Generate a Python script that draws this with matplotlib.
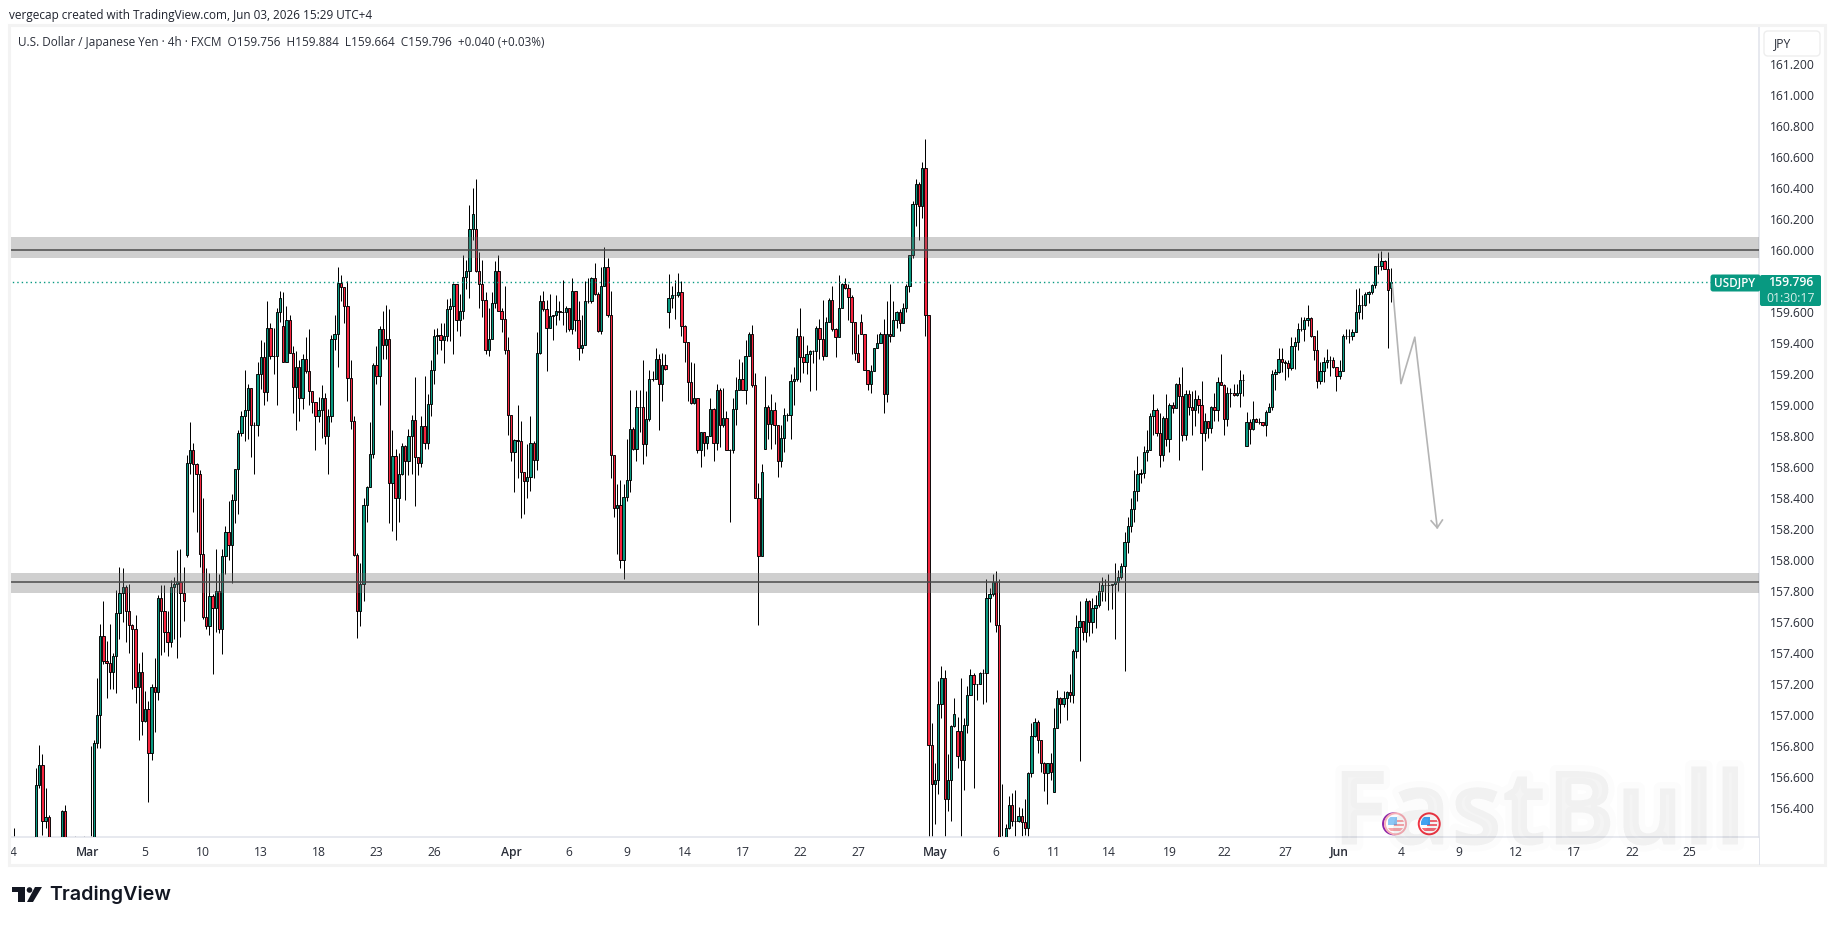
import matplotlib
matplotlib.use('Agg')
import matplotlib.pyplot as plt
import matplotlib.patheffects as pe
from matplotlib.patches import Rectangle, Circle, FancyBboxPatch, Polygon
from matplotlib.transforms import IdentityTransform
import numpy as np

W, H = 1835, 925

# 4h USD/JPY candles, ten bars a row
closes = [
    156.05,156.00,155.95,155.90,155.90,155.95,156.05,156.55,156.68,156.32,
    156.345,156.10,156.00,155.95,156.10,156.38,156.10,156.00,156.05,156.10,
    156.05,156.10,156.05,156.00,156.10,156.82,157.00,157.51,157.35,157.34,
    157.28,157.385,157.66,157.79,157.825,157.675,157.58,157.56,157.185,157.28,
    156.965,157.04,156.755,157.18,157.15,157.755,157.675,157.54,157.47,157.83,
    157.85,157.86,157.79,157.74,158.63,158.71,158.62,158.56,158.04,157.635,
    157.575,157.77,157.69,157.80,157.56,158.03,158.18,158.10,158.39,158.59,
    158.82,158.93,158.97,159.11,158.87,158.87,159.20,159.31,159.085,159.50,
    159.32,159.32,159.60,159.69,159.28,159.55,159.34,159.12,159.25,159.05,
    159.30,159.22,159.09,159.02,158.93,158.97,159.05,158.80,158.93,159.43,
    159.46,159.79,159.765,159.64,159.175,158.90,158.035,157.675,157.85,158.36,
    158.475,158.685,159.26,159.19,159.49,159.39,159.43,158.50,158.67,158.40,
    158.56,158.74,158.64,158.80,158.905,158.665,158.63,158.865,158.76,159.01,
    159.23,159.45,159.455,159.42,159.45,159.62,159.64,159.78,159.55,159.61,
    159.825,159.865,160.14,160.235,159.865,159.78,159.68,159.36,159.43,159.66,
    159.865,159.61,159.56,159.36,158.94,158.70,158.775,158.77,158.57,158.51,
    158.54,158.76,158.65,159.34,159.67,159.62,159.50,159.575,159.58,159.61,
    159.60,159.60,159.63,159.49,159.74,159.55,159.37,159.39,159.67,159.67,
    159.82,159.72,159.48,159.77,159.89,159.58,158.68,158.34,158.36,158.00,
    158.41,158.52,158.85,158.72,158.99,158.99,158.75,158.91,159.17,159.17,
    159.30,159.14,159.26,159.235,159.69,159.71,159.71,159.73,159.51,159.41,
    159.15,159.015,159.05,158.71,158.83,158.76,158.80,158.975,158.76,159.10,
    158.87,158.92,158.715,158.71,158.975,159.10,159.17,159.10,159.32,159.46,
    159.13,158.40,158.03,158.57,158.99,158.88,158.97,158.87,158.64,158.79,
    158.94,158.94,159.16,159.17,159.45,159.31,159.28,159.33,159.35,159.35,
    159.50,159.43,159.32,159.54,159.68,159.49,159.44,159.63,159.78,159.76,
    159.70,159.54,159.34,159.28,159.46,159.23,159.14,159.22,159.37,159.40,
    159.46,159.07,159.46,159.45,159.55,159.60,159.53,159.63,159.77,159.97,
    160.30,160.43,160.285,160.53,159.58,156.81,156.56,156.58,157.07,157.24,
    156.46,156.585,156.93,157.01,156.74,156.715,156.94,157.13,157.26,157.205,
    157.205,157.275,157.275,157.76,157.78,157.86,157.585,156.10,156.00,156.27,
    156.42,156.32,156.32,156.35,156.31,156.275,156.625,156.865,156.96,156.84,
    156.695,156.63,156.69,156.635,156.92,157.115,157.075,157.11,157.15,157.13,
    157.415,157.57,157.61,157.54,157.74,157.605,157.695,157.71,157.80,157.84,
    157.84,157.84,157.85,157.86,157.89,157.965,158.12,158.22,158.33,158.45,
    158.555,158.565,158.70,158.71,158.93,158.97,158.82,158.68,158.92,158.78,
    159.00,158.985,159.135,159.06,158.81,159.07,158.99,158.97,159.04,159.00,
    158.82,158.90,158.855,158.99,158.97,159.15,159.13,158.91,159.08,159.08,
    159.065,159.08,159.165,159.165,158.89,158.85,158.91,158.895,158.895,158.87,
    158.96,158.99,159.20,159.215,159.30,159.28,159.27,159.24,159.385,159.41,
    159.49,159.49,159.55,159.565,159.445,159.355,159.16,159.22,159.28,159.295,
    159.29,159.25,159.19,159.22,159.45,159.45,159.445,159.475,159.60,159.65,
    159.65,159.72,159.73,159.775,159.896,159.90,159.93,159.88,159.745,159.796,
]
highs = [
    156.27,156.05,156.00,155.95,155.95,156.00,156.10,156.66,156.81,156.75,
    156.53,156.355,156.15,156.05,156.15,156.39,156.42,156.15,156.10,156.22,
    156.15,156.12,156.22,156.10,156.80,156.84,157.24,157.59,157.74,157.48,
    157.59,157.40,157.81,157.96,157.95,157.84,157.85,157.59,157.645,157.34,
    157.41,157.16,157.09,157.20,157.37,157.775,157.84,157.84,157.67,157.87,
    157.89,158.065,158.07,157.96,158.68,158.89,158.76,158.63,158.58,158.40,
    157.95,157.92,157.78,158.07,157.91,158.07,158.22,158.38,158.43,158.59,
    158.84,158.965,159.23,159.14,159.115,158.89,159.28,159.42,159.41,159.67,
    159.53,159.50,159.63,159.74,159.73,159.64,159.58,159.38,159.35,159.29,
    159.33,159.44,159.49,159.095,159.02,159.055,159.13,159.08,158.975,159.455,
    159.58,159.89,159.84,159.765,159.80,159.29,158.93,158.05,157.98,158.40,
    158.48,158.89,159.27,159.38,159.51,159.61,159.65,159.62,158.84,158.72,
    158.69,158.76,158.745,158.85,158.94,159.18,158.665,158.93,159.19,159.07,
    159.29,159.49,159.50,159.53,159.53,159.685,159.69,159.79,159.78,159.72,
    159.97,159.94,160.29,160.40,160.46,159.99,159.94,159.73,159.63,159.73,
    159.93,159.97,159.63,159.77,159.44,158.94,158.78,159.00,158.90,158.57,
    158.75,158.93,158.77,159.47,159.71,159.74,159.68,159.72,159.58,159.71,
    159.67,159.81,159.64,159.62,159.82,159.73,159.67,159.58,159.80,159.82,
    159.83,159.92,159.73,159.89,160.02,159.95,159.74,158.68,158.49,158.52,
    158.49,158.78,159.10,158.86,159.10,159.10,159.29,159.09,159.23,159.22,
    159.37,159.33,159.34,159.33,159.85,159.77,159.81,159.855,159.80,159.52,
    159.41,159.28,159.27,159.05,158.83,158.83,158.80,159.05,158.98,159.14,
    159.11,159.11,158.965,158.72,159.05,159.18,159.30,159.28,159.42,159.47,
    159.52,159.21,158.50,158.62,159.19,159.00,159.07,159.02,158.87,158.87,
    158.98,158.95,159.20,159.25,159.50,159.63,159.45,159.39,159.36,159.36,
    159.51,159.56,159.68,159.57,159.69,159.77,159.50,159.84,159.79,159.82,
    159.78,159.71,159.54,159.46,159.59,159.46,159.23,159.26,159.37,159.46,
    159.47,159.56,159.67,159.78,159.67,159.61,159.62,159.66,159.785,159.97,
    160.32,160.46,160.44,160.57,160.72,159.58,156.95,156.69,157.22,157.32,
    157.29,156.75,156.94,157.11,156.99,157.24,156.98,157.19,157.30,157.27,
    157.205,157.28,157.30,157.88,157.82,157.91,157.93,157.88,156.555,156.30,
    156.48,156.50,156.52,156.41,156.40,156.46,156.635,156.95,156.98,156.97,
    156.84,156.70,156.695,156.76,157.05,157.165,157.12,157.155,157.155,157.265,
    157.425,157.645,157.74,157.61,157.76,157.745,157.755,157.775,157.86,157.89,
    157.88,157.915,157.85,157.98,157.94,157.98,158.18,158.28,158.40,158.58,
    158.67,158.59,158.74,158.84,158.95,159.07,158.98,158.95,158.93,159.07,
    159.015,159.02,159.145,159.18,159.245,159.10,159.10,159.09,159.10,159.065,
    159.16,158.95,158.90,158.995,159.08,159.18,159.33,159.14,159.12,159.115,
    159.135,159.14,159.225,159.20,158.96,158.91,159.03,158.92,158.92,158.895,
    158.97,159.015,159.23,159.235,159.37,159.37,159.29,159.295,159.44,159.44,
    159.53,159.57,159.57,159.645,159.57,159.45,159.485,159.28,159.31,159.365,
    159.32,159.31,159.25,159.295,159.46,159.49,159.49,159.49,159.75,159.755,
    159.71,159.73,159.74,159.78,159.90,159.98,159.995,159.94,159.99,159.884,
]
lows = [
    156.00,155.90,155.85,155.85,155.85,155.85,155.95,156.00,156.53,156.23,
    156.27,156.05,155.95,155.90,155.90,156.05,156.05,155.95,155.95,156.00,
    156.00,156.00,156.00,155.95,155.95,156.05,156.79,156.79,157.33,157.11,
    157.17,157.17,157.145,157.495,157.60,157.47,157.40,157.17,157.08,156.84,
    156.87,156.96,156.44,156.71,156.89,157.10,157.39,157.41,157.38,157.44,
    157.495,157.37,157.505,157.61,158.02,158.56,158.315,158.18,157.96,157.62,
    157.555,157.52,157.265,157.54,157.53,157.395,157.915,158.00,157.855,158.24,
    158.30,158.80,158.77,158.78,158.665,158.56,158.80,159.105,159.00,159.03,
    159.30,159.20,159.00,159.54,159.28,159.28,159.34,158.95,158.84,158.90,
    158.975,159.21,159.00,158.95,158.715,158.89,158.79,158.75,158.56,158.89,
    159.36,159.245,159.675,159.53,159.03,158.85,158.03,157.50,157.575,157.735,
    158.25,158.47,158.66,159.14,159.00,159.30,159.30,158.24,158.19,158.13,
    158.25,158.55,158.39,158.55,158.56,158.35,158.55,158.60,158.72,158.72,
    158.93,159.14,159.33,159.36,159.275,159.415,159.415,159.33,159.48,159.45,
    159.56,159.75,159.69,160.065,159.86,159.63,159.57,159.33,159.32,159.43,
    159.63,159.61,159.475,159.33,158.81,158.64,158.44,158.53,158.27,158.30,
    158.40,158.45,158.53,158.58,159.33,159.61,159.22,159.50,159.42,159.52,
    159.55,159.52,159.47,159.48,159.46,159.48,159.29,159.34,159.39,159.66,
    159.66,159.71,159.47,159.46,159.77,159.57,158.53,158.28,158.04,157.95,
    157.88,158.38,158.44,158.71,158.64,158.83,158.62,158.67,158.90,159.16,
    159.17,158.84,159.03,159.23,159.50,159.63,159.56,159.70,159.45,159.28,
    159.03,159.01,159.01,158.69,158.60,158.675,158.72,158.80,158.64,158.71,
    158.73,158.86,158.71,158.25,158.69,158.87,159.10,159.10,159.01,159.32,
    159.12,158.40,157.58,158.03,158.72,158.78,158.72,158.75,158.54,158.60,
    158.70,158.90,158.78,159.00,159.16,159.15,159.21,159.20,159.09,159.27,
    159.10,159.30,159.29,159.32,159.54,159.48,159.31,159.44,159.63,159.75,
    159.55,159.33,159.29,159.28,159.46,159.23,159.10,159.08,159.22,159.37,
    159.40,158.95,159.02,159.41,159.45,159.50,159.48,159.53,159.60,159.73,
    159.95,160.155,160.065,160.21,159.445,156.10,156.10,156.30,156.495,156.98,
    156.10,156.38,156.32,156.925,156.66,156.10,156.52,156.885,157.13,156.53,
    157.10,157.20,157.07,157.085,157.60,157.77,157.54,156.05,155.90,155.95,
    156.265,156.285,156.20,156.31,156.22,156.23,156.20,156.60,156.86,156.76,
    156.635,156.51,156.425,156.585,156.505,156.92,156.95,157.055,156.97,157.085,
    157.08,157.37,156.705,157.485,157.47,157.51,157.53,157.565,157.70,157.74,
    157.74,157.68,157.685,157.495,157.80,157.88,157.285,158.05,158.18,158.25,
    158.38,158.50,158.53,158.64,158.71,158.81,158.80,158.60,158.64,158.74,
    158.70,158.95,158.98,158.645,158.77,158.775,158.94,158.81,158.865,158.95,
    158.58,158.77,158.79,158.82,158.90,158.90,159.13,158.81,158.865,158.99,
    159.06,159.06,158.99,159.06,158.74,158.75,158.84,158.89,158.88,158.865,
    158.80,158.96,158.97,159.10,159.21,159.215,159.165,159.18,159.225,159.235,
    159.36,159.48,159.415,159.515,159.44,159.29,159.11,159.14,159.15,159.24,
    159.19,159.24,159.09,159.17,159.29,159.43,159.40,159.42,159.47,159.56,
    159.56,159.64,159.66,159.72,159.76,159.85,159.87,159.88,159.37,159.664,
]
first_open = 156.10
# bars that opened away from the previous close
gap_opens = {54: 158.035, 84: 159.51, 144: 160.14, 204: 159.60, 234: 158.72,
             264: 159.54, 294: 156.90, 295: 156.90, 324: 156.505, 384: 158.74, 429: 159.756}

# price axis
price_ticks = [156.4, 156.6, 156.8, 157.0, 157.2, 157.4, 157.6, 157.8, 158.0, 158.2, 158.4,
               158.6, 158.8, 159.0, 159.2, 159.4, 159.6, 159.8, 160.0, 160.2, 160.4, 160.6,
               160.8, 161.0, 161.2]
hidden_ticks = [159.8]

# time axis
date_idx = [0, 23, 41, 59, 77, 95, 113, 131, 155, 173, 191, 209, 227, 245, 263, 287, 306,
            324, 341, 360, 377, 396, 413, 432, 450, 468, 486, 504, 522]
date_labels = ['4', 'Mar', '5', '10', '13', '18', '23', '26', 'Apr', '6', '9', '14', '17', '22', '27',
               'May', '6', '11', '14', '19', '22', '27', 'Jun', '4', '9', '12', '17', '22', '25']
month_labels = ['Mar', 'Apr', 'May', 'Jun']

# support / resistance zones and their centre lines
zone_tops = [160.084, 157.916]
zone_bottoms = [159.95, 157.789]
zone_lines = [160.0, 157.863]
last_price = 159.796

# projected path drawn by hand
path_idx = [429.4, 432.1, 436.4, 443.4]
path_price = [159.78, 159.14, 159.44, 158.21]
head_idx = [441.5, 443.4, 445.0]
head_price = [158.255, 158.21, 158.26]

# calendar events shown on the time scale
event_idx = [430.4, 440.9]

def px(x, y):
    # screen pixels counted from the top left
    return (x, H - y)

def txt(x, y, s, **kw):
    fig.text(x / W, 1 - y / H, s, **kw)

plt.rcParams['font.family'] = ['Open Sans', 'DejaVu Sans']

fig = plt.figure(figsize=(W / 100, H / 100), dpi=100, facecolor='white')
# pane: x 10.5..1759, y 27..837
ax = fig.add_axes([10.5 / W, 1 - 837 / H, (1759 - 10.5) / W, (837 - 27) / H])

opens = [first_open] + closes[:-1]
for i, v in gap_opens.items():
    opens[i] = v
opens = np.array(opens)
closes = np.array(closes)
highs = np.array(highs)
lows = np.array(lows)
x = np.arange(len(closes))
up = closes >= opens
body_low = np.minimum(opens, closes)
body_h = np.abs(closes - opens)

ax.vlines(x, lows, highs, color='black', lw=0.72, zorder=2)
ax.bar(x[up], body_h[up], bottom=body_low[up], width=0.72, color='#089981', edgecolor='black', lw=0.66, zorder=3)
ax.bar(x[~up], body_h[~up], bottom=body_low[~up], width=0.72, color='#f7253f', edgecolor='black', lw=0.66, zorder=3)

# grey zones sit over the candles
for top, bottom, level in zip(zone_tops, zone_bottoms, zone_lines):
    ax.axhspan(bottom, top, color='#707070', alpha=0.33, lw=0, zorder=4)
    ax.axhline(level, color='#4a4a4a', lw=1.1, zorder=5)

ax.plot([-5, 531], [last_price, last_price], color='#089981', lw=1.0, ls=(0, (1, 2.2)), zorder=5)

ax.plot(path_idx, path_price, color='#b4b4b4', lw=1.2, zorder=6)
ax.plot(head_idx, head_price, color='#b4b4b4', lw=1.2, zorder=6)

ax.set_xlim(-0.94, 543.6)
ax.set_ylim(156.215, 161.441)

ax.set_yticks(price_ticks)
ax.set_yticklabels(['%.3f' % p if p not in hidden_ticks else '' for p in price_ticks])
ax.yaxis.tick_right()
ax.tick_params(axis='y', length=0, pad=8, labelsize=8.7, labelcolor='#2a2e39')
ax.set_xticks(date_idx)
ax.set_xticklabels(date_labels)
ax.tick_params(axis='x', length=0, pad=6.5, labelsize=8.7, labelcolor='#2a2e39')
for lab in ax.get_xticklabels():
    if lab.get_text() in month_labels:
        lab.set_fontweight('semibold')

for s in ['top', 'left']:
    ax.spines[s].set_visible(False)
for s in ['right', 'bottom']:
    ax.spines[s].set_color('#e0e3eb')
    ax.spines[s].set_linewidth(1.1)

ident = IdentityTransform()
# outer frame and the price scale separator down to the frame
fig.add_artist(Rectangle(px(9, 865), 1816, 840, fill=False, edgecolor='#f3f3f3', lw=2.2, transform=ident))
fig.add_artist(Rectangle(px(1759, 865), 1, 28, color='#e0e3eb', lw=0, transform=ident))

txt(9, 15.5, 'vergecap created with TradingView.com, Jun 03, 2026 15:29 UTC+4', fontsize=8.5, color='#1e222d', va='center')
txt(18, 42.5, 'U.S. Dollar / Japanese Yen \u00b7 4h \u00b7 FXCM  O159.756  H159.884  L159.664  C159.796  +0.040 (+0.03%)',
    fontsize=8.5, color='#2a2e39', va='center')

# currency button over the top of the scale
fig.add_artist(FancyBboxPatch(px(1766, 54), 52, 21, boxstyle='round,pad=2,rounding_size=4', facecolor='white',
                              edgecolor='#eeeeee', lw=1, transform=ident, zorder=8))
fig.text(1783 / W, 1 - 44 / H, 'JPY', fontsize=8.7, color='#2a2e39', ha='center', va='center', zorder=9)

# last price tags
fig.add_artist(FancyBboxPatch(px(1712, 290), 47, 14, boxstyle='round,pad=1.5,rounding_size=2.5', facecolor='#089981',
                              edgecolor='none', transform=ident, zorder=8))
fig.add_artist(FancyBboxPatch(px(1761, 305), 59, 29, boxstyle='round,pad=1,rounding_size=2', facecolor='#089981',
                              edgecolor='none', transform=ident, zorder=8))
fig.text(1735 / W, 1 - 283 / H, 'USDJPY', fontsize=8.4, fontweight='semibold', color='white', ha='center', va='center', zorder=9)
fig.text(1791 / W, 1 - 283 / H, '159.796', fontsize=8.8, fontweight='semibold', color='white', ha='center', va='center', zorder=9)
fig.text(1791 / W, 1 - 298 / H, '01:30:17', fontsize=8.8, color='#d5efe9', ha='center', va='center', zorder=9)

# event badges, the first one has two stacked
fig.canvas.draw()
for k, ev in enumerate(event_idx):
    cx, cy = ax.transData.transform((ev, 156.3))
    fade = 0.5 if k == 0 else 0.85
    if k == 0:
        fig.add_artist(Circle((cx - 2, cy), 10.5, facecolor='white', edgecolor='#8e24aa', lw=1.4, transform=ident, zorder=7))
    ring_color = '#f9b0b8' if k == 0 else '#f23645'
    fig.add_artist(Circle((cx, cy), 10.5, facecolor='white', edgecolor=ring_color, lw=1.4, transform=ident, zorder=7))
    clip = Circle((cx, cy), 8.5, transform=ident)
    for yy, hh, cc, xx, ww in [(cy - 7, 2.5, '#f7525f', cx - 8, 16), (cy - 2.5, 2.5, '#f7525f', cx - 2, 10),
                               (cy + 1.5, 2.5, '#f7525f', cx + 1, 8), (cy - 1, 8, '#2196f3', cx - 8, 9)]:
        st = Rectangle((xx, yy), ww, hh, color=cc, lw=0, alpha=fade, transform=ident, zorder=7)
        fig.add_artist(st)
        st.set_clip_path(clip)

# faint broker watermark over the corner of the pane
wm = fig.text(1539 / W, 1 - 818 / H, 'FastBull', fontsize=74, fontweight='bold', color='black', alpha=0.014,
              ha='center', va='center', zorder=10, family='Open Sans')
wm.set_path_effects([pe.withStroke(linewidth=9, foreground='black', alpha=0.01), pe.Normal()])

# TradingView mark and wordmark
logo = '#131722'
fig.add_artist(Polygon([px(12, 887), px(25, 887), px(25, 902), px(18, 902), px(18, 892), px(12, 892)], color=logo, lw=0, transform=ident))
fig.add_artist(Circle(px(29.5, 890), 2.8, color=logo, lw=0, transform=ident))
fig.add_artist(Polygon([px(35, 887), px(42, 887), px(33, 902), px(27, 902)], color=logo, lw=0, transform=ident))
txt(49, 894.5, 'TradingView', fontsize=14.2, fontweight='semibold', color=logo, va='center', family='Inter')

fig.savefig('out.png', dpi=100)
